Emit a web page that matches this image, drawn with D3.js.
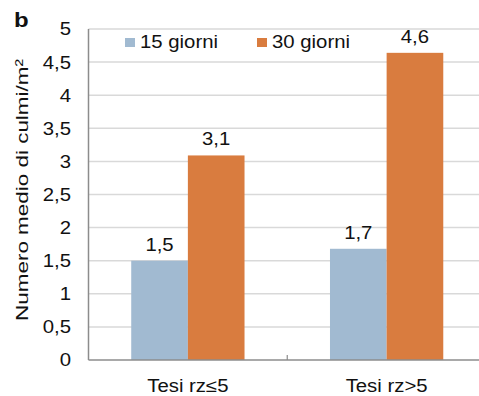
<!DOCTYPE html>
<html><head><meta charset="utf-8">
<script src="https://cdn.jsdelivr.net/npm/d3@7"></script>
<style>body{margin:0;background:#fff}svg{display:block;font-family:Arial,"Liberation Sans",sans-serif}</style>
</head><body>
<svg id="c" width="479" height="396"></svg>
<script>
const categories = ["Tesi rz\u22645", "Tesi rz>5"];
const seriesNames = ["15 giorni", "30 giorni"];
const values15 = [1.5, 1.68];
const values30 = [3.09, 4.64];
const labels15 = ["1,5", "1,7"];
const labels30 = ["3,1", "4,6"];
const yTicks = [0, 0.5, 1, 1.5, 2, 2.5, 3, 3.5, 4, 4.5, 5];
const yTickLabels = ["0", "0,5", "1", "1,5", "2", "2,5", "3", "3,5", "4", "4,5", "5"];
const colors = ["#a1bad1", "#d97c3f"];

const svg = d3.select("#c");
const m = {l: 88.5, r: 486, t: 29, b: 360};
const x = d3.scaleBand().domain(categories).range([m.l, m.r]).paddingInner(0).paddingOuter(0);
const y = d3.scaleLinear().domain([0, 5]).range([m.b, m.t]);
const barW = x.bandwidth() * 0.285;
const FS = 18, SX = 1.13;

// widen text along its own direction
function stretch(sel, k) {
  sel.each(function() {
    const w = this.getComputedTextLength();
    d3.select(this).attr("textLength", w * k).attr("lengthAdjust", "spacingAndGlyphs");
  });
}

// gridlines
svg.append("g").selectAll("line").data(yTicks.filter(d => d > 0)).join("line")
  .attr("x1", m.l).attr("x2", m.r).attr("y1", d => y(d)).attr("y2", d => y(d))
  .attr("stroke", "#d9d9d9").attr("stroke-width", 1.5);

// bars
const series = [values15, values30];
const lbls = [labels15, labels30];
series.forEach((vals, si) => {
  const g = svg.append("g");
  categories.forEach((c, ci) => {
    const cx = x(c) + x.bandwidth() / 2;
    const bx = si === 0 ? cx - barW : cx;
    g.append("rect").attr("x", bx).attr("width", barW)
      .attr("y", y(vals[ci])).attr("height", y(0) - y(vals[ci]))
      .attr("fill", colors[si]);
    g.append("text").attr("x", bx + barW / 2).attr("y", y(vals[ci]) - 10)
      .attr("text-anchor", "middle").attr("font-size", FS).attr("fill", "#111")
      .text(lbls[si][ci]).call(stretch, SX);
  });
});

// axes
svg.append("line").attr("x1", m.l).attr("x2", m.l).attr("y1", m.t).attr("y2", m.b)
  .attr("stroke", "#8c8c8c").attr("stroke-width", 1.5);
svg.append("line").attr("x1", m.l).attr("x2", m.r).attr("y1", m.b).attr("y2", m.b)
  .attr("stroke", "#8c8c8c").attr("stroke-width", 1.5);
svg.append("line").attr("x1", x(categories[1])).attr("x2", x(categories[1]))
  .attr("y1", m.b).attr("y2", m.b - 5).attr("stroke", "#8c8c8c").attr("stroke-width", 1.2);

// y tick labels
svg.append("g").selectAll("text").data(yTicks).join("text")
  .attr("x", 71).attr("y", d => y(d)).attr("dy", "0.36em")
  .attr("text-anchor", "end").attr("font-size", FS).attr("fill", "#111")
  .text((d, i) => yTickLabels[i]).call(stretch, SX);

// category labels
svg.append("g").selectAll("text").data(categories).join("text")
  .attr("x", d => x(d) + x.bandwidth() / 2).attr("y", 392)
  .attr("text-anchor", "middle").attr("font-size", FS).attr("fill", "#111")
  .text(d => d).call(stretch, SX);

// y axis title
svg.append("text").attr("transform", "translate(28,190) rotate(-90)")
  .attr("text-anchor", "middle").attr("font-size", 17).attr("fill", "#111")
  .text("Numero medio di culmi/m\u00b2").call(stretch, 1.32);

// panel letter
svg.append("text").attr("x", 14).attr("y", 27).attr("font-size", 20).attr("font-weight", "bold")
  .attr("fill", "#111").text("b").call(stretch, 1.2);

// legend
const legX = [125, 257];
seriesNames.forEach((s, i) => {
  svg.append("rect").attr("x", legX[i]).attr("y", 38).attr("width", 10).attr("height", 9).attr("fill", colors[i]);
  svg.append("text").attr("x", legX[i] + 15).attr("y", 48).attr("font-size", FS).attr("fill", "#111")
    .text(s).call(stretch, SX);
});
</script>
</body></html>
